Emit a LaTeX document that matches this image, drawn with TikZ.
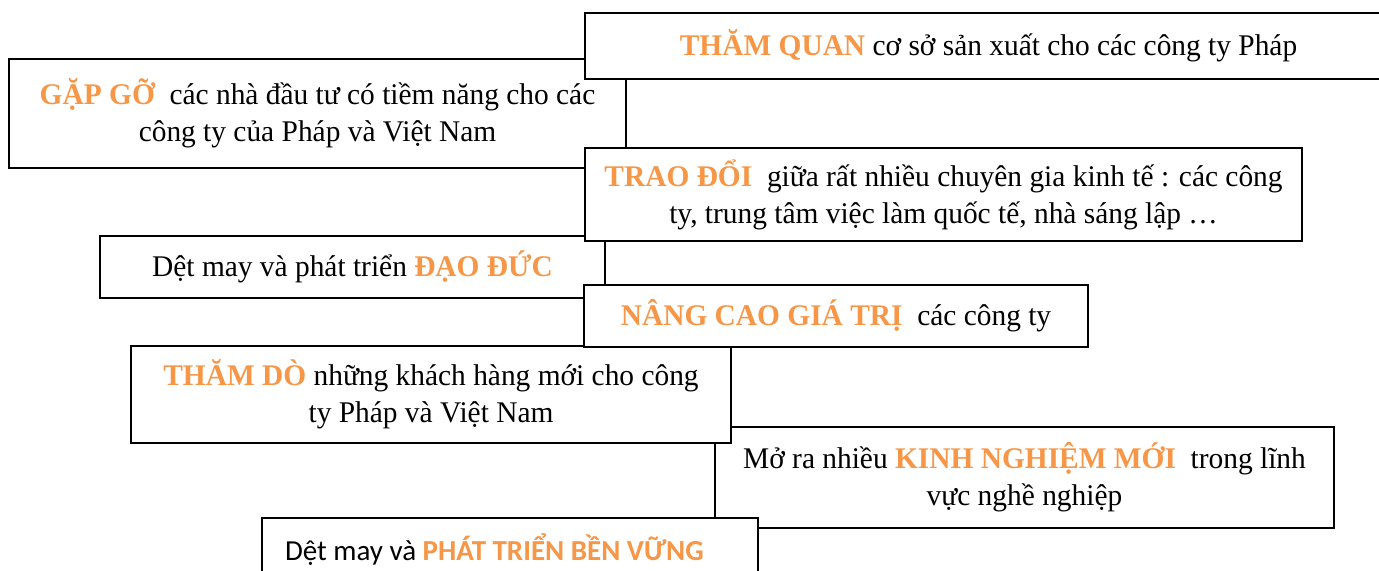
\documentclass[tikz,border=0pt]{standalone}
\usepackage{fontspec}
\setmainfont[FakeStretch=0.98]{Liberation Serif}
\newfontfamily\calibrifont{Carlito}
\definecolor{keyorange}{HTML}{F79646}
\newcommand{\kw}[1]{\textbf{\color{keyorange}#1}}
\tikzset{
    card/.style={draw, fill=white, line width=1pt, inner sep=0pt, align=center,
        font=\fontsize{15}{18.5}\selectfont},
    sanscard/.style={card, align=flush left, inner xsep=11.5pt,
        font=\calibrifont\fontsize{14.5}{17}\selectfont} }

\begin{document}
\begin{tikzpicture}[x=0.5pt, y=-0.5pt]
			\useasboundingbox (0,0) rectangle (1379,571);
			\clip (0,0) rectangle (1379,571);
			% ----
			\node[card, minimum width=308.5pt, minimum height=54.5pt] (meet) at (317.5,113.5)
				{\kw{GẶP GỠ}\ \ các nhà đầu tư có tiềm năng cho các\\công ty của Pháp và Việt Nam};
			\node[card, minimum width=403.5pt, minimum height=33pt] (visit) at (988.5,46)
				{\kw{THĂM QUAN} cơ sở sản xuất cho các công ty Pháp};
			\node[card, minimum width=252.5pt, minimum height=31pt] (ethics) at (352.5,267)
				{Dệt may và phát triển \kw{ĐẠO ĐỨC}};
			\node[card, minimum width=358.5pt, minimum height=46.5pt] (exchange) at (943.5,194.5)
				{\kw{TRAO ĐỔI}\ \ giữa rất nhiều chuyên gia kinh tế : các công\\ty, trung tâm việc làm quốc tế, nhà sáng lập …};
			\node[card, minimum width=309.5pt, minimum height=50.5pt] (experience) at (1024.5,477.5)
				{Mở ra nhiều \kw{KINH NGHIỆM MỚI}\ \ trong lĩnh\\vực nghề nghiệp};
			\node[card, minimum width=300pt, minimum height=48.5pt] (explore) at (431,394.5)
				{\kw{THĂM DÒ} những khách hàng mới cho công\\ty Pháp và Việt Nam};
			\node[card, minimum width=252pt, minimum height=31pt] (value) at (836,316)
				{\kw{NÂNG CAO GIÁ TRỊ}\ \ các công ty};
			\node[sanscard, text width=225pt, minimum height=31pt] (sustain) at (510,549)
				{Dệt may và \kw{PHÁT TRIỂN BỀN VỮNG}};
\end{tikzpicture}
\end{document}
